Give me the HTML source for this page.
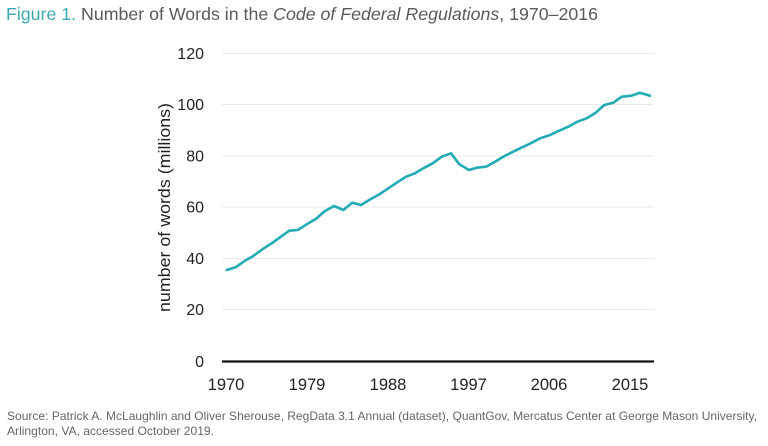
<!DOCTYPE html>
<html><head><meta charset="utf-8"><style>
html,body{margin:0;padding:0;background:#fff;}
svg{display:block;}
text{font-family:"Liberation Sans",sans-serif;}
</style></head><body>
<svg width="768" height="446" viewBox="0 0 768 446" xmlns="http://www.w3.org/2000/svg">
<rect width="768" height="446" fill="#fff"/>
<text x="6" y="20" font-size="17.5" fill="#5a5a5a" textLength="592" lengthAdjust="spacingAndGlyphs"><tspan fill="#3aa9b2">Figure 1.</tspan> Number of Words in the <tspan font-style="italic">Code of Federal Regulations</tspan>, 1970–2016</text>
<g stroke="#e8e8ec" stroke-width="1">
<line x1="222" y1="53.5" x2="654" y2="53.5"/>
<line x1="222" y1="104.5" x2="654" y2="104.5"/>
<line x1="222" y1="156" x2="654" y2="156"/>
<line x1="222" y1="207" x2="654" y2="207"/>
<line x1="222" y1="258.5" x2="654" y2="258.5"/>
<line x1="222" y1="309.5" x2="654" y2="309.5"/>
</g>
<line x1="222" y1="361.5" x2="654" y2="361.5" stroke="#111" stroke-width="2.2"/>
<g font-size="16" fill="#222" text-anchor="end">
<text x="204" y="59">120</text>
<text x="204" y="110">100</text>
<text x="204" y="161.5">80</text>
<text x="204" y="212.5">60</text>
<text x="204" y="264">40</text>
<text x="204" y="315">20</text>
<text x="204" y="367">0</text>
</g>
<g font-size="16.5" fill="#222" text-anchor="middle">
<text x="226" y="390">1970</text>
<text x="307" y="390">1979</text>
<text x="388" y="390">1988</text>
<text x="468.5" y="390">1997</text>
<text x="549" y="390">2006</text>
<text x="630" y="390">2015</text>
</g>
<text transform="translate(170,207.5) rotate(-90)" font-size="17" fill="#222" text-anchor="middle" textLength="209" lengthAdjust="spacingAndGlyphs">number of words (millions)</text>
<polyline fill="none" stroke="#22abb5" stroke-width="2.6" stroke-linejoin="round" stroke-linecap="round" points="226.7,270 235.7,267.3 245,260.7 253.3,256 262.3,249.3 271.7,243.3 280,237.3 289.3,230.7 297.7,230 306.7,224.3 315.7,219 325,211 334,206 343.3,210 352.3,202.7 361,205 370,199.5 379,194.5 388.3,188.3 396.7,182.7 406,176.7 415,173.3 423.3,168.3 432.7,163.3 441.7,156.7 451,153.3 459.3,164.3 469,170 476.7,167.7 486,166.7 495,161.7 503.3,156.7 510,153.3 520,148.3 530.7,143.3 540,138.3 550,135 559.3,130.7 568.3,126.7 577.3,121.7 586.7,118.3 595,113.3 604.3,105 613.3,102.7 621.7,96.7 631.7,95.7 640,92.7 650,95.7"/>
<g font-size="12" fill="#666">
<text x="7" y="420" textLength="750" lengthAdjust="spacingAndGlyphs">Source: Patrick A. McLaughlin and Oliver Sherouse, RegData 3.1 Annual (dataset), QuantGov, Mercatus Center at George Mason University,</text>
<text x="7" y="435" textLength="207" lengthAdjust="spacingAndGlyphs">Arlington, VA, accessed October 2019.</text>
</g>
</svg>
</body></html>
